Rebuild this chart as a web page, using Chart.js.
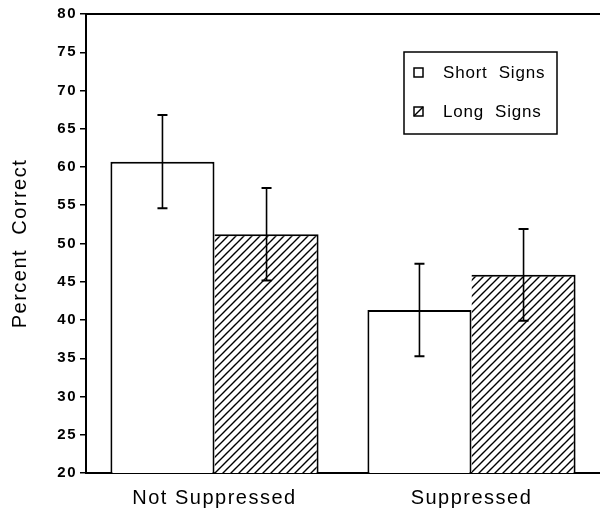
<!DOCTYPE html>
<html>
<head>
<meta charset="utf-8">
<script src="https://cdn.jsdelivr.net/npm/chart.js@4/dist/chart.umd.min.js"></script>
<style>
  html, body { margin: 0; padding: 0; background: #fff; }
  #wrap { width: 600px; height: 517px; }
</style>
</head>
<body>
<div id="wrap"><canvas id="myChart" width="600" height="517"></canvas></div>
<script>
// dados
const categories = ['Not Suppressed', 'Suppressed'];
const seriesNames = ['Short  Signs', 'Long  Signs'];
const shortSigns = [60.7, 41.3];
const longSigns = [51.2, 45.9];
const shortErr = [6.1, 6.05];
const longErr = [6.05, 6.0];
const yTicks = [20, 25, 30, 35, 40, 45, 50, 55, 60, 65, 70, 75, 80];

function makeHatch() {
    const size = 8;
    const c = document.createElement('canvas');
    c.width = size; c.height = size;
    const g = c.getContext('2d');
    g.fillStyle = '#fff';
    g.fillRect(0, 0, size, size);
    g.strokeStyle = '#000';
    g.lineWidth = 1.4;
    g.beginPath();
    g.moveTo(-1, size + 1); g.lineTo(size + 1, -1);
    g.moveTo(-1, 1); g.lineTo(1, -1);
    g.moveTo(size - 1, size + 1); g.lineTo(size + 1, size - 1);
    g.stroke();
    return g.createPattern(c, 'repeat');
}
const ctx = document.getElementById('myChart').getContext('2d');
const hatch = makeHatch();

// espaçamento entre letras, como no original
const spacingPlugin = {
    id: 'spacing',
    beforeDraw(chart) { chart.ctx.letterSpacing = '1.5px'; },
    afterDraw(chart) { chart.ctx.letterSpacing = '0px'; }
};

// linha de cima do quadro
const frameTop = {
    id: 'frameTop',
    afterDraw(chart) {
        const { ctx, chartArea } = chart;
        ctx.save();
        ctx.strokeStyle = '#000';
        ctx.lineWidth = 2;
        ctx.beginPath();
        ctx.moveTo(chartArea.left, chartArea.top);
        ctx.lineTo(chartArea.right, chartArea.top);
        ctx.stroke();
        ctx.restore();
    }
};

// barras de erro
const errorBars = {
    id: 'errorBars',
    afterDatasetsDraw(chart) {
        const { ctx } = chart;
        const y = chart.scales.y;
        ctx.save();
        ctx.strokeStyle = '#000';
        chart.data.datasets.forEach((ds, di) => {
            const meta = chart.getDatasetMeta(di);
            meta.data.forEach((bar, i) => {
                const v = ds.data[i];
                const e = ds.err[i];
                const yTop = y.getPixelForValue(v + e);
                const yBot = y.getPixelForValue(v - e);
                const x = bar.x;
                ctx.lineWidth = 1.6;
                ctx.beginPath();
                ctx.moveTo(x, yTop); ctx.lineTo(x, yBot);
                ctx.stroke();
                ctx.lineWidth = 2;
                ctx.beginPath();
                ctx.moveTo(x - 5, yTop); ctx.lineTo(x + 5, yTop);
                ctx.moveTo(x - 5, yBot); ctx.lineTo(x + 5, yBot);
                ctx.stroke();
            });
        });
        ctx.restore();
    }
};

// legenda em caixa dentro do gráfico
const boxLegend = {
    id: 'boxLegend',
    afterDraw(chart) {
        const { ctx, chartArea } = chart;
        const left = chartArea.right - 196, top = chartArea.top + 38;
        const w = 153, h = 82;
        ctx.save();
        ctx.strokeStyle = '#000';
        ctx.lineWidth = 1.5;
        ctx.fillStyle = '#fff';
        ctx.fillRect(left, top, w, h);
        ctx.strokeRect(left, top, w, h);
        ctx.font = '17px "Liberation Sans", Arial, sans-serif';
        ctx.textBaseline = 'middle';
        ctx.letterSpacing = '0.8px';
        chart.data.datasets.forEach((ds, i) => {
            const cy = top + 21 + i * 39;
            const sx = left + 10, sy = cy - 5;
            ctx.fillStyle = '#fff';
            ctx.fillRect(sx, sy, 9, 9);
            ctx.lineWidth = 1.5;
            ctx.strokeRect(sx, sy, 9, 9);
            if (i === 1) {
                ctx.beginPath();
                ctx.moveTo(sx, sy + 9); ctx.lineTo(sx + 9, sy);
                ctx.stroke();
            }
            ctx.fillStyle = '#000';
            ctx.fillText(ds.label, left + 39, cy);
        });
        ctx.restore();
    }
};

new Chart(ctx, {
    type: 'bar',
    data: {
        labels: categories,
        datasets: [{
            label: seriesNames[0],
            data: shortSigns,
            err: shortErr,
            backgroundColor: '#fff',
            borderColor: '#000',
            borderWidth: 2,
            borderSkipped: false
        }, {
            label: seriesNames[1],
            data: longSigns,
            err: longErr,
            backgroundColor: hatch,
            borderColor: '#000',
            borderWidth: 2,
            borderSkipped: 'left'
        }]
    },
    options: {
        responsive: false,
        animation: false,
        layout: { padding: { top: 14, right: 0, bottom: 0, left: 0 } },
        datasets: { bar: { categoryPercentage: 0.81, barPercentage: 1 } },
        plugins: {
            legend: { display: false },
            tooltip: { enabled: false }
        },
        scales: {
            x: {
                grid: { display: false, drawTicks: false },
                border: { display: true, color: '#000', width: 2 },
                ticks: {
                    color: '#000',
                    padding: 13,
                    font: { family: '"Liberation Sans", Arial, sans-serif', size: 20 }
                },
                afterFit: s => { s.height = 44; }
            },
            y: {
                min: 20,
                max: 80,
                afterBuildTicks: s => { s.ticks = yTicks.map(v => ({ value: v })); },
                grid: { drawOnChartArea: false, drawTicks: true, tickLength: 6, color: '#000', lineWidth: 1.5 },
                border: { display: true, color: '#000', width: 2 },
                ticks: {
                    color: '#000',
                    padding: 3,
                    font: { family: '"Liberation Sans", Arial, sans-serif', size: 15, weight: 'bold' }
                },
                title: {
                    display: true,
                    text: 'Percent  Correct',
                    color: '#000',
                    padding: { top: 8, bottom: 0 },
                    font: { family: '"Liberation Sans", Arial, sans-serif', size: 20 }
                },
                afterFit: s => { s.width = 86; }
            }
        }
    },
    plugins: [spacingPlugin, frameTop, errorBars, boxLegend]
});
</script>
</body>
</html>
